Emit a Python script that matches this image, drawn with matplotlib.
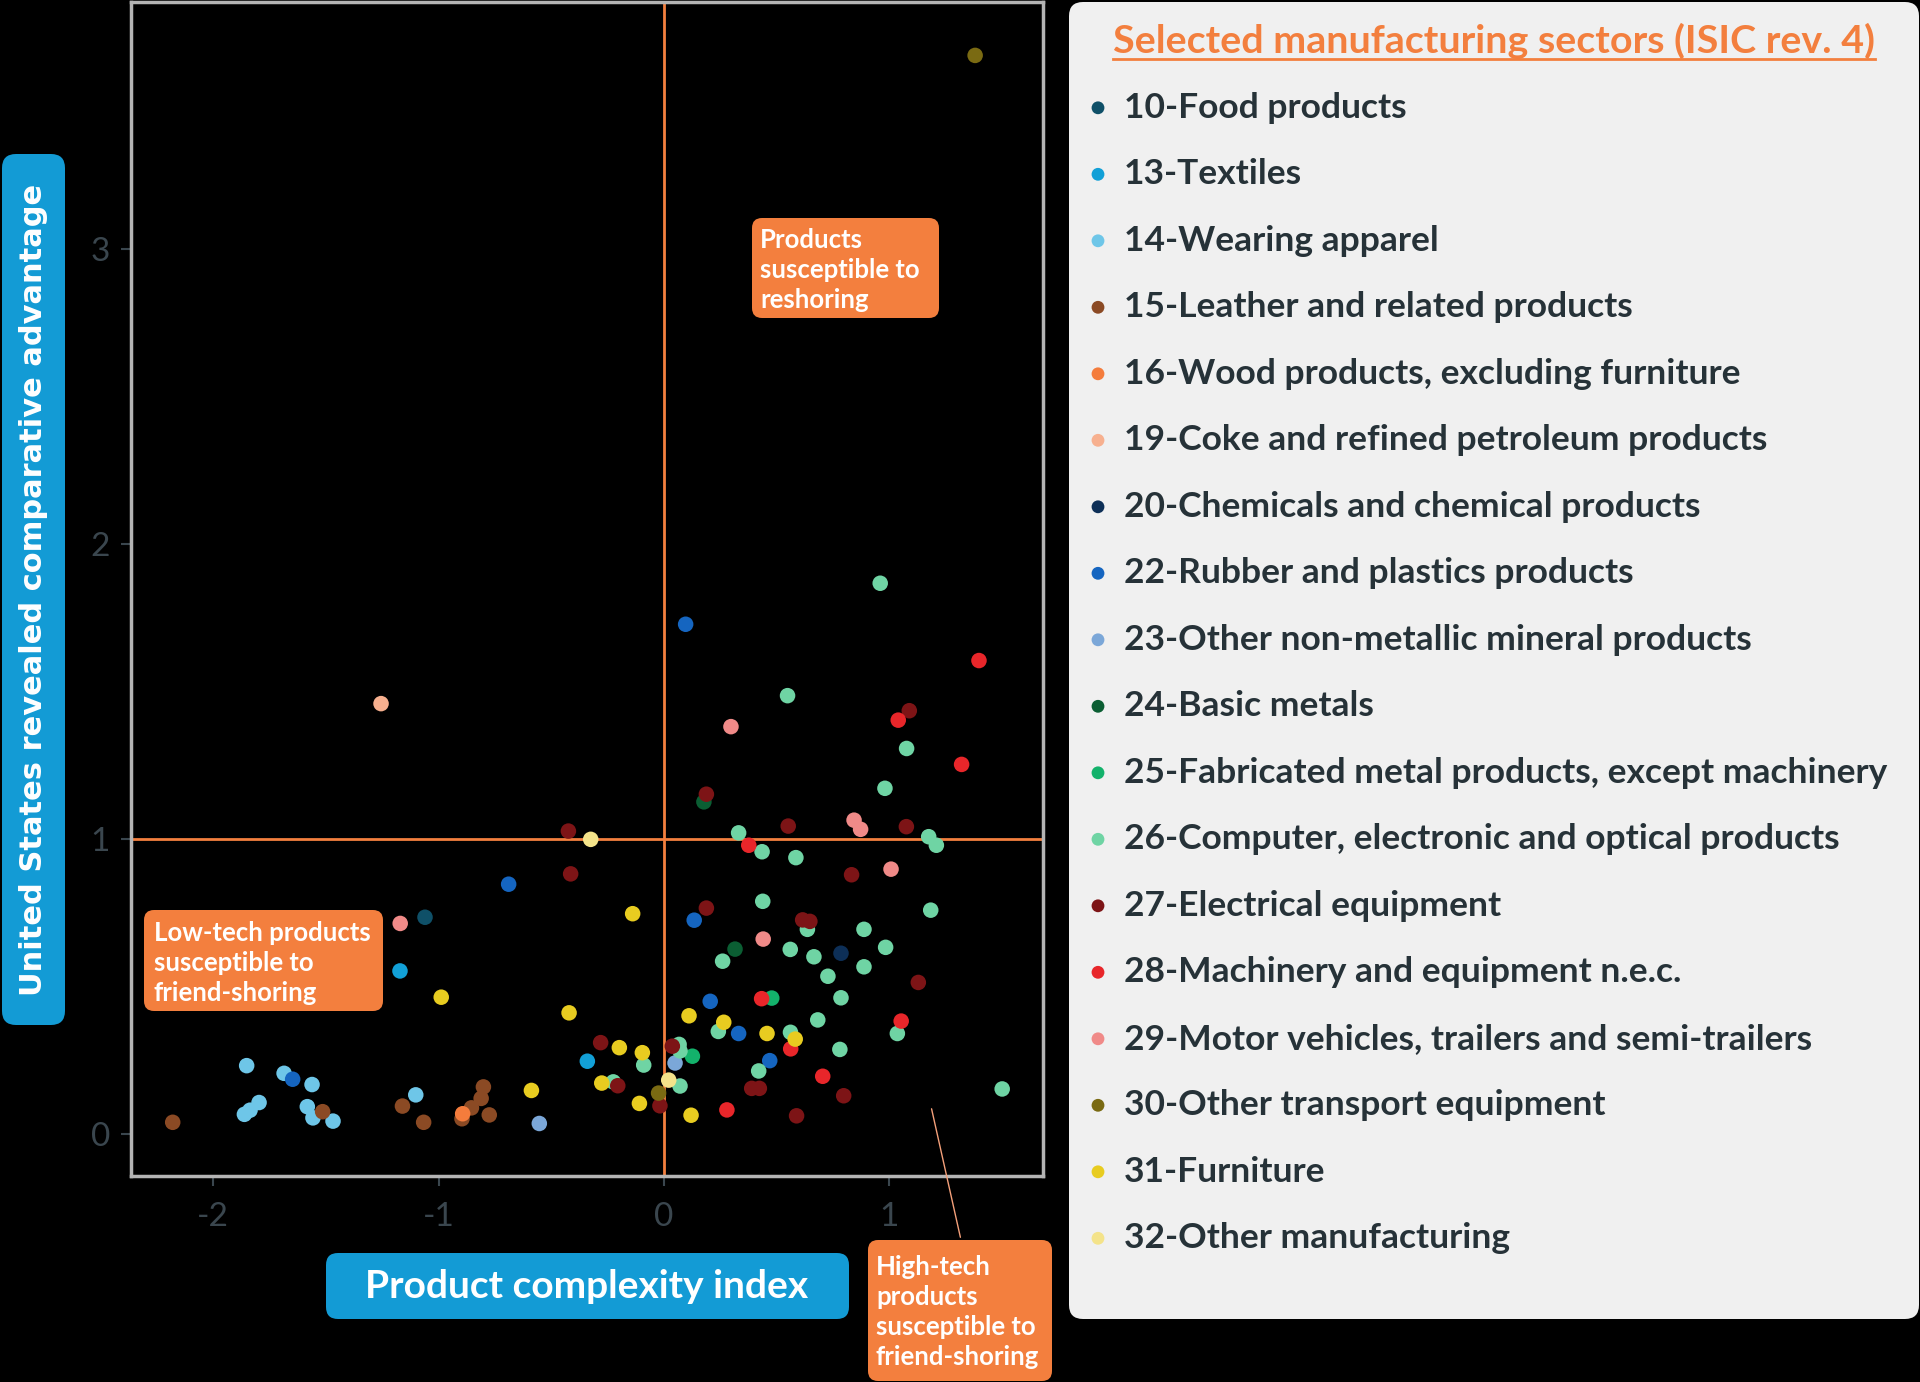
import matplotlib
matplotlib.use('Agg')
import matplotlib.pyplot as plt
from matplotlib.patches import FancyBboxPatch
from matplotlib.transforms import IdentityTransform

# Product complexity index (x) and US revealed comparative advantage (y), per sector
food_x = [-1.060]
food_y = [0.735]
textiles_x = [-1.171, -0.340]
textiles_y = [0.553, 0.247]
apparel_x = [-1.851, -1.685, -1.561, -1.796, -1.836, -1.861, -1.582, -1.557, -1.468, -1.101]
apparel_y = [0.232, 0.206, 0.168, 0.107, 0.081, 0.067, 0.093, 0.055, 0.044, 0.133]
leather_x = [-2.179, -1.514, -1.160, -1.066, -0.801, -0.811, -0.854, -0.896, -0.775]
leather_y = [0.040, 0.076, 0.095, 0.040, 0.160, 0.121, 0.089, 0.052, 0.065]
wood_x = [-0.893]
wood_y = [0.069]
coke_x = [-1.255]
coke_y = [1.459]
chemicals_x = [0.785]
chemicals_y = [0.613]
rubber_x = [-1.647, -0.689, 0.096, 0.134, 0.205, 0.331, 0.469]
rubber_y = [0.186, 0.847, 1.728, 0.725, 0.450, 0.341, 0.249]
mineral_x = [-0.553, 0.049]
mineral_y = [0.036, 0.241]
basic_x = [0.177, 0.315]
basic_y = [1.126, 0.627]
fabricated_x = [0.478, 0.126]
fabricated_y = [0.461, 0.264]
computer_x = [0.959, 0.548, 1.076, 0.980, 0.331, 0.435, 0.585, 1.174, 1.208, 0.438,
              1.183, 0.260, 0.560, 0.636, 0.887, 0.665, 0.983, 0.887, 0.727, 0.785,
              0.241, 0.561, 0.682, 1.035, 0.780, 0.420, 0.067, 0.071, -0.090, -0.225,
              0.071, 1.500]
computer_y = [1.867, 1.486, 1.307, 1.172, 1.021, 0.957, 0.937, 1.008, 0.979, 0.789,
              0.759, 0.586, 0.626, 0.694, 0.694, 0.601, 0.633, 0.567, 0.535, 0.462,
              0.348, 0.345, 0.387, 0.341, 0.287, 0.214, 0.304, 0.282, 0.234, 0.177,
              0.163, 0.153]
electrical_x = [-0.424, -0.414, 0.188, 0.551, 1.075, 1.088, 0.832, 0.188, 0.615, 0.647,
                1.128, -0.281, 0.037, -0.205, -0.018, 0.389, 0.423, 0.797, 0.588]
electrical_y = [1.027, 0.882, 1.152, 1.044, 1.042, 1.435, 0.879, 0.766, 0.726, 0.721,
                0.514, 0.310, 0.298, 0.164, 0.096, 0.155, 0.155, 0.130, 0.062]
machinery_x = [1.397, 1.039, 1.320, 0.376, 0.433, 0.562, 1.052, 0.704, 0.279]
machinery_y = [1.605, 1.403, 1.253, 0.979, 0.459, 0.289, 0.383, 0.196, 0.082]
motor_x = [-1.170, 0.297, 0.843, 0.872, 1.007, 0.440]
motor_y = [0.714, 1.381, 1.064, 1.033, 0.898, 0.661]
transport_x = [1.380, -0.024]
transport_y = [3.656, 0.139]
furniture_x = [-0.988, -0.421, -0.139, -0.588, 0.111, 0.265, 0.457, 0.582, -0.198, -0.096,
               -0.276, -0.109, 0.120]
furniture_y = [0.464, 0.411, 0.747, 0.148, 0.401, 0.379, 0.341, 0.322, 0.293, 0.276,
               0.173, 0.104, 0.064]
other_x = [-0.325, 0.021]
other_y = [0.999, 0.183]

sector_labels = ['10-Food products', '13-Textiles', '14-Wearing apparel',
                 '15-Leather and related products', '16-Wood products, excluding furniture',
                 '19-Coke and refined petroleum products', '20-Chemicals and chemical products',
                 '22-Rubber and plastics products', '23-Other non-metallic mineral products',
                 '24-Basic metals', '25-Fabricated metal products, except machinery',
                 '26-Computer, electronic and optical products', '27-Electrical equipment',
                 '28-Machinery and equipment n.e.c.', '29-Motor vehicles, trailers and semi-trailers',
                 '30-Other transport equipment', '31-Furniture', '32-Other manufacturing']
sector_colors = ['#0f5068', '#12a0d7', '#6ec6e8', '#8b4a24', '#f47c3c', '#f7b08f',
                 '#0d2f57', '#1565c0', '#7ba7d8', '#0b5e33', '#13b26b', '#6fd4a4',
                 '#7d1416', '#e8262a', '#f08a88', '#7a6a12', '#e8cc20', '#f4e38a']

series = [(food_x, food_y), (textiles_x, textiles_y), (apparel_x, apparel_y),
          (leather_x, leather_y), (wood_x, wood_y), (coke_x, coke_y),
          (chemicals_x, chemicals_y), (rubber_x, rubber_y), (mineral_x, mineral_y),
          (basic_x, basic_y), (fabricated_x, fabricated_y), (computer_x, computer_y),
          (electrical_x, electrical_y), (machinery_x, machinery_y), (motor_x, motor_y),
          (transport_x, transport_y), (furniture_x, furniture_y), (other_x, other_y)]

plt.rcParams['font.family'] = ['Lato', 'DejaVu Sans']

W, H = 1920, 1382
ORANGE = '#f37f3e'
BLUE = '#139bd5'
DARK = '#263238'

fig = plt.figure(figsize=(W / 100, H / 100), dpi=100, facecolor='black')


def fx(px):
    return px / W


def fy(py):
    return 1 - py / H


def box(x0, y0, x1, y1, color, rad=12, z=1):
    # rounded box in pixel coordinates (top-left origin)
    p = FancyBboxPatch((x0, H - y1), x1 - x0, y1 - y0,
                       boxstyle=f'round,pad=0,rounding_size={rad}',
                       transform=IdentityTransform(), fc=color, ec='none', zorder=z)
    fig.add_artist(p)


ax = fig.add_axes([fx(131), fy(1176), (1043 - 131) / W, (1176 - 2) / H])
ax.set_facecolor('black')
for sp in ax.spines.values():
    sp.set_color('#b4b4b4')
    sp.set_linewidth(2.5)

ax.axvline(0, color=ORANGE, lw=2, zorder=1)
ax.axhline(1, color=ORANGE, lw=2, zorder=1)

for (xs, ys), c in zip(series, sector_colors):
    ax.scatter(xs, ys, s=125, color=c, edgecolors='none', zorder=3)

ax.set_xlim(-2.364, 1.681)
ax.set_ylim(-0.142, 3.837)
ax.set_xticks([-2, -1, 0, 1])
ax.set_yticks([0, 1, 2, 3])
ax.set_xticklabels(['-2', '-1', '0', '1'])
ax.tick_params(axis='both', colors='#3a464e', labelcolor='#3a464e', labelsize=24,
               length=7, width=1.5)
ax.tick_params(axis='x', pad=12)
ax.tick_params(axis='y', pad=8)

# leader line for the high-tech label
ax.annotate('', xy=(1.184, 0.095), xycoords='data',
            xytext=(fx(961), fy(1240)), textcoords='figure fraction',
            arrowprops=dict(arrowstyle='-', color='#f4a07a', lw=1), annotation_clip=False)

# axis title boxes
box(2, 154, 65, 1025, BLUE, 14)
fig.text(fx(34), fy(590), 'United States revealed comparative advantage', rotation=90,
         ha='center', va='center', color='white', fontsize=22, fontweight='bold',
         family=['DejaVu Sans'], zorder=2)
box(326, 1253, 849, 1319, BLUE, 12)
fig.text(fx(587), fy(1287), 'Product complexity index', ha='center', va='center',
         color='white', fontsize=28, fontweight='bold', zorder=2)

# quadrant notes
note_kw = dict(ha='left', va='center', color='white', fontsize=18.5, fontweight='bold',
               linespacing=1.3, zorder=2)
box(752, 218, 939, 318, ORANGE, 10)
fig.text(fx(760), fy(270), 'Products\nsusceptible to\nreshoring', **note_kw)
box(144, 910, 383, 1011, ORANGE, 10)
fig.text(fx(154), fy(963), 'Low-tech products\nsusceptible to\nfriend-shoring', **note_kw)
box(868, 1240, 1052, 1381, ORANGE, 10)
fig.text(fx(876), fy(1312), 'High-tech\nproducts\nsusceptible to\nfriend-shoring', **note_kw)

# legend panel
box(1069, 2, 1919, 1319, '#f0f0f0', 14, z=0.5)
lax = fig.add_axes([fx(1069), fy(1319), (1919 - 1069) / W, (1319 - 2) / H])
lax.set_zorder(3)
lax.set_xlim(1069, 1919)
lax.set_ylim(1319, 2)
lax.axis('off')
lax.patch.set_alpha(0)

title = lax.text(1494, 41, 'Selected manufacturing sectors (ISIC rev. 4)', ha='center',
                 va='center', color=ORANGE, fontsize=28.4, fontweight='bold')
for i, (lab, c) in enumerate(zip(sector_labels, sector_colors)):
    yy = 107.8 + i * 66.5
    lax.scatter([1098], [yy], s=85, color=c, edgecolors='none')
    lax.text(1124, yy, lab, ha='left', va='center', color=DARK, fontsize=25.5,
             fontweight='bold')

# underline the legend title
fig.canvas.draw()
bb = title.get_window_extent(renderer=fig.canvas.get_renderer())
inv = lax.transData.inverted()
(x0, _), (x1, _) = inv.transform([(bb.x0, bb.y0), (bb.x1, bb.y0)])
lax.plot([x0, x1], [59, 59], color=ORANGE, lw=2)

fig.savefig('out.png', dpi=100, facecolor='black')
